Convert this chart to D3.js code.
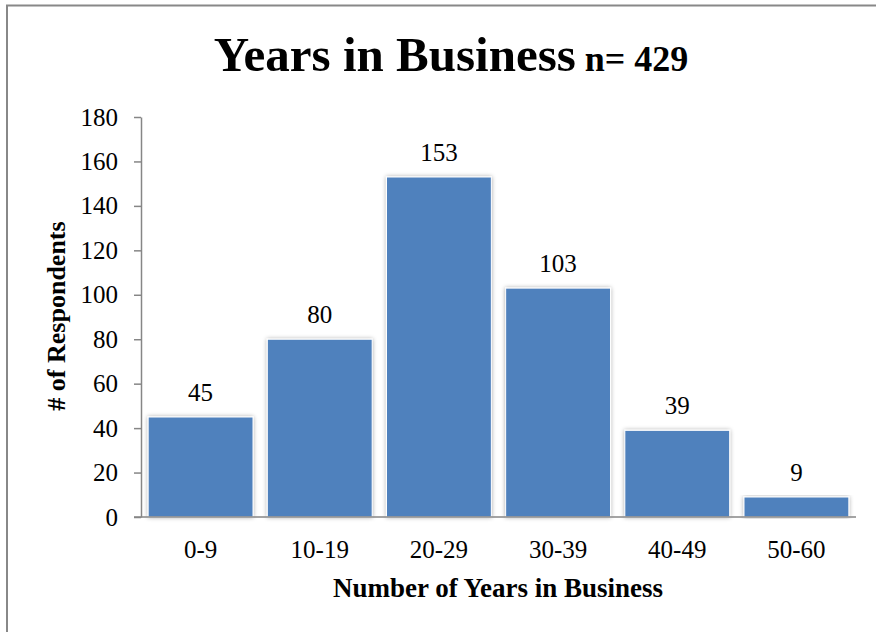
<!DOCTYPE html>
<html>
<head>
<meta charset="utf-8">
<script src="https://cdn.jsdelivr.net/npm/d3@7"></script>
<style>
  html, body { margin: 0; padding: 0; background: #fff; }
  svg { display: block; }
</style>
</head>
<body>
<svg id="chart" width="876" height="632"></svg>
<script>
// Respondents grouped by years in business
const categories = ["0-9", "10-19", "20-29", "30-39", "40-49", "50-60"];
const respondents = [45, 80, 153, 103, 39, 9];
const yTicks = [0, 20, 40, 60, 80, 100, 120, 140, 160, 180];
const titleText = "Years in Business";
const subtitleText = "n= 429";
const xTitle = "Number of Years in Business";
const yTitle = "# of Respondents";

const SERIF = "'Liberation Serif', 'Times New Roman', 'DejaVu Serif', serif";

const svg = d3.select("#chart").style("font-family", SERIF);

// drop shadow for the bars
const defs = svg.append("defs");
const f = defs.append("filter").attr("id", "barShadow")
  .attr("x", "-10%").attr("y", "-10%").attr("width", "120%").attr("height", "120%");
f.append("feDropShadow").attr("dx", 0).attr("dy", 0).attr("stdDeviation", 2.2)
  .attr("flood-color", "#000").attr("flood-opacity", 0.35);

// outer frame
svg.append("rect")
  .attr("x", 7).attr("y", 5.5).attr("width", 900).attr("height", 700)
  .attr("fill", "none").attr("stroke", "#888").attr("stroke-width", 2);

const plot = { left: 141, right: 856, top: 117, bottom: 517 };

const x = d3.scaleBand()
  .domain(categories)
  .range([plot.left, plot.right])
  .paddingInner(0.12)
  .paddingOuter(0.06);

const y = d3.scaleLinear()
  .domain([0, 180])
  .range([plot.bottom, plot.top]);

// title
const title = svg.append("text")
  .attr("x", 451).attr("y", 71)
  .attr("text-anchor", "middle")
  .style("font-family", SERIF)
  .attr("font-weight", "bold");
title.append("tspan").attr("font-size", 49).text(titleText);
title.append("tspan").attr("font-size", 36).text(" " + subtitleText);

// y axis
const yAxis = d3.axisLeft(y).tickValues(yTicks).tickSize(7).tickPadding(16).tickSizeOuter(0);
const gy = svg.append("g").attr("transform", `translate(${plot.left},0)`).call(yAxis);
gy.attr("font-family", null);
gy.select(".domain").attr("stroke", "#868686").attr("stroke-width", 1.5);
gy.selectAll(".tick line").attr("stroke", "#868686").attr("stroke-width", 1.5);
gy.selectAll(".tick text").attr("font-size", 25).style("font-family", SERIF).attr("fill", "#000");

// bars
svg.append("g").selectAll("rect")
  .data(categories.map((c, i) => ({ c, v: respondents[i] })))
  .join("rect")
  .attr("x", d => x(d.c))
  .attr("y", d => y(d.v))
  .attr("width", x.bandwidth())
  .attr("height", d => y(0) - y(d.v))
  .attr("fill", "#4F81BD")
  .attr("stroke", "#fff")
  .attr("stroke-width", 1)
  .attr("filter", "url(#barShadow)");

// x axis line (drawn over the bars' base)
svg.append("line")
  .attr("x1", plot.left - 7).attr("x2", plot.right)
  .attr("y1", plot.bottom).attr("y2", plot.bottom)
  .attr("stroke", "#868686").attr("stroke-width", 1.5);

// x tick labels
const xAxis = d3.axisBottom(x).tickSize(0).tickPadding(0);
const gx = svg.append("g").attr("transform", `translate(0,${plot.bottom})`).call(xAxis);
gx.attr("font-family", null);
gx.select(".domain").remove();
gx.selectAll(".tick text")
  .attr("font-size", 25).style("font-family", SERIF).attr("fill", "#000")
  .attr("dy", null).attr("y", 41);

// value labels
svg.append("g").selectAll("text")
  .data(categories.map((c, i) => ({ c, v: respondents[i] })))
  .join("text")
  .attr("x", d => x(d.c) + x.bandwidth() / 2)
  .attr("y", d => y(d.v) - 16)
  .attr("text-anchor", "middle")
  .style("font-family", SERIF)
  .attr("font-size", 25)
  .text(d => d.v);

// axis titles
svg.append("text")
  .attr("x", 498).attr("y", 597)
  .attr("text-anchor", "middle")
  .style("font-family", SERIF)
  .attr("font-weight", "bold").attr("font-size", 27)
  .text(xTitle);

svg.append("text")
  .attr("transform", "translate(65,316) rotate(-90)")
  .attr("text-anchor", "middle")
  .style("font-family", SERIF)
  .attr("font-weight", "bold").attr("font-size", 26)
  .text(yTitle);
</script>
</body>
</html>
